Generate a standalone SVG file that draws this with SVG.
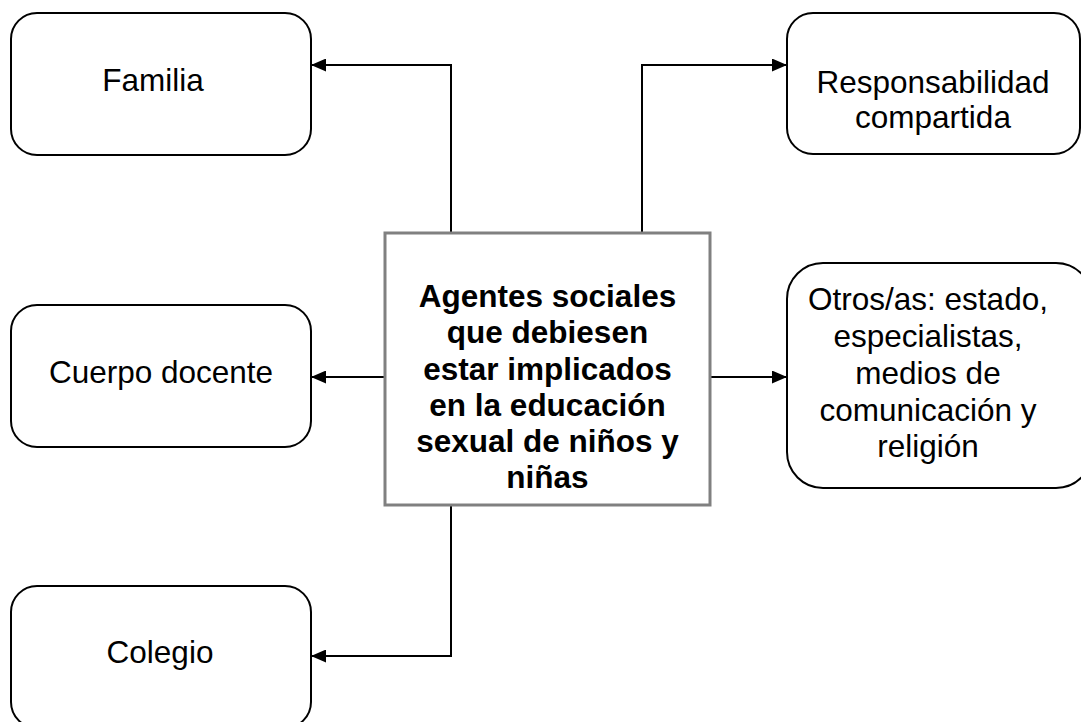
<svg xmlns="http://www.w3.org/2000/svg" width="1081" height="722" viewBox="0 0 1081 722">
<style>
.box{fill:#fff;stroke:#000;stroke-width:2}
.center{fill:#fff;stroke:#808080;stroke-width:3}
.t{font-family:"Liberation Sans",Arial,sans-serif;font-size:31.5px;fill:#000;text-anchor:middle}
.b{font-weight:bold;font-size:31.5px}
.c{fill:none;stroke:#000;stroke-width:2}
</style>
<defs>
<marker id="ah" markerWidth="15" markerHeight="13" refX="15" refY="6.5" orient="auto" markerUnits="userSpaceOnUse">
<path d="M0,0 L15,6.5 L0,13 Z" fill="#000"/>
</marker>
</defs>
<rect width="1081" height="722" fill="#fff"/>
<g id="connectors">
<path class="c" d="M451,233 V65 H311" marker-end="url(#ah)"/>
<path class="c" d="M642,233 V65 H787" marker-end="url(#ah)"/>
<path class="c" d="M385,377 H311" marker-end="url(#ah)"/>
<path class="c" d="M710,377 H787" marker-end="url(#ah)"/>
<path class="c" d="M451,505 V656 H311" marker-end="url(#ah)"/>
</g>
<g id="familia">
<rect class="box" x="11" y="13" width="300" height="142" rx="26"/>
<text class="t" x="153" y="91">Familia</text>
</g>
<g id="cuerpo-docente">
<rect class="box" x="11" y="305" width="300" height="142" rx="26"/>
<text class="t" x="161" y="383">Cuerpo docente</text>
</g>
<g id="colegio">
<rect class="box" x="11" y="586" width="300" height="142" rx="26"/>
<text class="t" x="160" y="663">Colegio</text>
</g>
<g id="responsabilidad">
<rect class="box" x="787" y="13" width="293" height="141" rx="26"/>
<text class="t" x="933" y="93">Responsabilidad</text>
<text class="t" x="933" y="128">compartida</text>
</g>
<g id="otros">
<rect class="box" x="787" y="263" width="305" height="225" rx="36"/>
<text class="t" x="928" y="310">Otros/as: estado,</text>
<text class="t" x="928" y="347">especialistas,</text>
<text class="t" x="928" y="384">medios de</text>
<text class="t" x="928" y="421">comunicación y</text>
<text class="t" x="928" y="457">religión</text>
</g>
<g id="agentes">
<rect class="center" x="385" y="233" width="325" height="272"/>
<text class="t b" x="547.5" y="307">Agentes sociales</text>
<text class="t b" x="547.5" y="343">que debiesen</text>
<text class="t b" x="547.5" y="380">estar implicados</text>
<text class="t b" x="547.5" y="416">en la educación</text>
<text class="t b" x="547.5" y="452">sexual de niños y</text>
<text class="t b" x="547.5" y="488">niñas</text>
</g>
</svg>
